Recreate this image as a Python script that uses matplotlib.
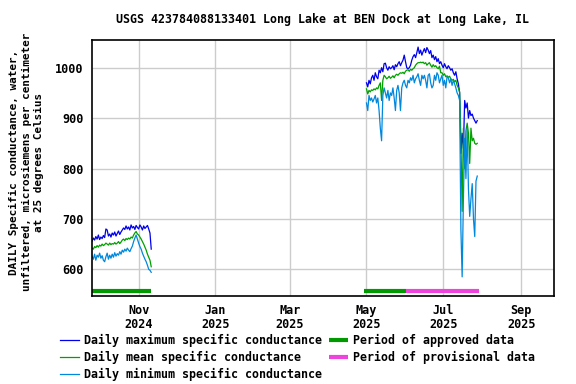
import matplotlib
matplotlib.use("Agg")
import matplotlib.pyplot as plt
import pandas as pd

plt.rcParams['font.family'] = ['DejaVu Sans Mono']
plt.rcParams['font.weight'] = 'bold'
FS = 8.5

title = "USGS 423784088133401 Long Lake at BEN Dock at Long Lake, IL"
ylabel = "DAILY Specific conductance, water,\nunfiltered, microsiemens per centimeter\nat 25 degrees Celsius"

# Segment 1: 2024-09-25 .. 2024-11-11
seg1_start = "2024-09-25"
seg1_max = [656, 662, 658, 665, 660, 668, 659, 664, 661, 667, 663, 680, 678, 666, 670, 664,
            672, 668, 674, 666, 671, 676, 669, 674, 678, 682, 679, 686, 680, 684, 678, 688,
            682, 685, 679, 687, 683, 680, 688, 684, 678, 686, 681, 684, 687, 680, 672, 640]
seg1_mean = [642, 640, 645, 643, 647, 644, 648, 646, 650, 647, 649, 652, 650, 648, 652, 649,
             651, 650, 653, 650, 652, 655, 651, 654, 658, 660, 657, 661, 659, 662, 660, 664,
             662, 668, 672, 675, 670, 668, 664, 660, 655, 650, 644, 638, 630, 624, 618, 605]
seg1_min = [626, 620, 630, 618, 628, 624, 632, 622, 627, 618, 615, 625, 632, 620, 628, 622,
            630, 624, 633, 626, 631, 628, 635, 630, 638, 634, 640, 636, 642, 638, 635, 641,
            646, 655, 662, 668, 660, 652, 645, 640, 632, 626, 620, 615, 608, 600, 598, 594]

# Segment 2: 2025-05-01 .. 2025-07-28
seg2_start = "2025-05-01"
seg2_max = [970, 962, 975, 968, 980, 985, 975, 990, 982, 978,
            995, 990, 1000, 992, 1008, 1009, 1000, 995, 1002, 998,
            1000, 1004, 996, 1006, 1002, 1008, 1012, 1004, 1010, 1015,
            1025, 1012, 1000, 998, 1000, 1005, 1015, 1022, 1026, 1020,
            1030, 1041, 1028, 1035, 1025, 1032, 1038, 1030, 1040, 1035,
            1028, 1034, 1020, 1025, 1016, 1022, 1012, 1018, 1008, 1012,
            1005, 1000, 1008, 1002, 998, 1004, 1000, 995, 998, 990,
            985, 992, 978, 968, 950, 830, 870, 840, 935, 920,
            930, 900, 915, 905, 908, 900, 895, 890, 895]
seg2_mean = [958, 948, 955, 952, 956, 955, 958, 956, 960, 958,
             965, 970, 935, 975, 985, 982, 978, 980, 983, 979,
             981, 984, 980, 985, 987, 985, 988, 990, 989, 991,
             988, 993, 995, 996, 993, 997, 995, 998, 1000, 1005,
             1008, 1010, 1010, 1011, 1010, 1011, 1008, 1010, 1005, 1008,
             1010, 1005, 1001, 1006, 1002, 1004, 1000, 998, 1003, 990,
             990, 985, 988, 982, 984, 981, 983, 978, 975, 977,
             972, 975, 965, 960, 952, 860, 715, 880, 800, 875,
             890, 870, 810, 880, 855, 860, 850, 848, 850]
seg2_min = [930, 915, 945, 935, 940, 932, 938, 945, 930, 940,
            915, 880, 855, 945, 960, 950, 940, 955, 935, 950,
            945, 960, 940, 915, 955, 965, 950, 915, 960, 970,
            975, 965, 960, 975, 970, 980, 975, 985, 970, 978,
            982, 988, 975, 965, 985, 978, 985, 975, 960, 985,
            988, 970, 960, 965, 985, 975, 990, 985, 970, 978,
            985, 965, 975, 960, 982, 980, 970, 978, 965, 975,
            968, 960, 950, 945, 935, 680, 585, 740, 860, 780,
            880, 760, 705, 740, 770, 700, 665, 775, 785]

approved_periods = [("2024-09-24", "2024-11-11"), ("2025-04-29", "2025-06-01")]
provisional_periods = [("2025-06-01", "2025-07-29")]

yticks = [600, 700, 800, 900, 1000]
xtick_dates = ["2024-11-01", "2025-01-01", "2025-03-01", "2025-05-01", "2025-07-01", "2025-09-01"]
xtick_labels = ["Nov\n2024", "Jan\n2025", "Mar\n2025", "May\n2025", "Jul\n2025", "Sep\n2025"]

c_max = "#0000EE"
c_mean = "#00A000"
c_min = "#0088DD"
c_appr = "#009900"
c_prov = "#EE44DD"

fig = plt.figure(figsize=(5.76, 3.84), dpi=100)
ax = fig.add_axes([91.7/576, 1 - 296/384, (554.3 - 91.7)/576, (296 - 39.7)/384])

d1 = pd.date_range(seg1_start, periods=len(seg1_max), freq="D")
d2 = pd.date_range(seg2_start, periods=len(seg2_max), freq="D")

lw = 0.9
ax.plot(d1, seg1_max, color=c_max, lw=lw, label="Daily maximum specific conductance")
ax.plot(d1, seg1_mean, color=c_mean, lw=lw, label="Daily mean specific conductance")
ax.plot(d1, seg1_min, color=c_min, lw=lw, label="Daily minimum specific conductance")
ax.plot(d2, seg2_max, color=c_max, lw=lw)
ax.plot(d2, seg2_mean, color=c_mean, lw=lw)
ax.plot(d2, seg2_min, color=c_min, lw=lw)

bar_y = 557
for i, (a, b) in enumerate(approved_periods):
    ax.plot([pd.Timestamp(a), pd.Timestamp(b)], [bar_y, bar_y], color=c_appr, lw=3,
            solid_capstyle="butt", label="Period of approved data" if i == 0 else None)
for i, (a, b) in enumerate(provisional_periods):
    ax.plot([pd.Timestamp(a), pd.Timestamp(b)], [bar_y, bar_y], color=c_prov, lw=3,
            solid_capstyle="butt", label="Period of provisional data" if i == 0 else None)

ax.set_xlim(pd.Timestamp("2024-09-24 17:00"), pd.Timestamp("2025-09-27 05:00"))
ax.set_ylim(547, 1055.6)
ax.set_yticks(yticks)
ax.set_yticklabels([str(v) for v in yticks], fontsize=FS, fontweight="bold")
ax.set_xticks([pd.Timestamp(d) for d in xtick_dates])
ax.set_xticklabels(xtick_labels, fontsize=FS, fontweight="bold", linespacing=1.1)
ax.tick_params(length=0, pad=6)
ax.grid(True, color="#CCCCCC", lw=1)
ax.set_axisbelow(True)
for s in ax.spines.values():
    s.set_linewidth(1.2)

fig.text(323/576, 1 - 19/384, title, ha="center", va="center", fontsize=8.4, fontweight="bold")
fig.text(26.5/576, 1 - 162/384, ylabel, ha="center", va="center", rotation=90,
         fontsize=7.9, fontweight="bold", linespacing=1.35)

handles, labels = ax.get_legend_handles_labels()
leg = fig.legend(handles, labels, loc="upper left", bbox_to_anchor=(60/576, 1 - 334/384), ncol=2,
                 frameon=False, fontsize=8.4, handlelength=1.6, handletextpad=0.45,
                 columnspacing=0.6, labelspacing=0.32, borderaxespad=0, borderpad=0)
for t in leg.get_texts():
    t.set_fontweight("bold")

fig.savefig("out.png", dpi=100)
